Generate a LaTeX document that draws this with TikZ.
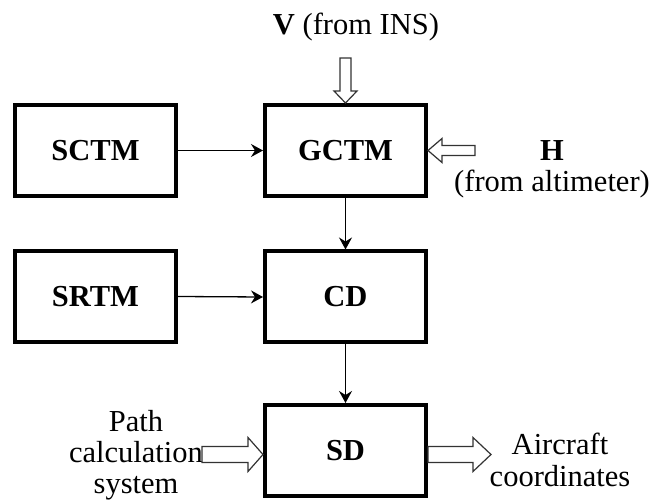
\documentclass[tikz,border=0pt]{standalone}
\usepackage{fontspec}
\setmainfont{Liberation Serif}
\usetikzlibrary{arrows.meta,calc}

\tikzset{
  block/.style={draw=black, line width=4pt, minimum width=161pt, minimum height=91pt,
    inner sep=0pt, font=\fontsize{30.5}{33}\selectfont\bfseries},
  label/.style={inner sep=0pt, font=\fontsize{30.5}{32}\selectfont, align=center},
  flow/.style={draw=black, line width=1.3pt,
    -{Stealth[length=12pt,width=13pt,inset=4pt]}},
  hollow/.style={draw=black!80, line width=1.2pt, fill=white, line join=miter}
}

\begin{document}
\begin{tikzpicture}[x=1pt,y=-1pt]
  \useasboundingbox (0,0) rectangle (649,500);

  % processing blocks
  \node[block] (sctm) at (95.5,150.5) {SCTM};
  \node[block] (gctm) at (345.5,150.5) {GCTM};
  \node[block] (srtm) at (95.5,296.5) {SRTM};
  \node[block] (cd)   at (345.5,297) {CD};
  \node[block] (sd)   at (345.5,450.5) {SD};

  % external inputs and outputs
  \node[label, anchor=base] (vin) at (356,35) {\textbf{V} (from INS)};
  \node[label, anchor=base] (hin) at (552,161) {\textbf{H}};
  \node[label, anchor=base] (hsrc) at (552,192) {(from altimeter)};
  \node[label, font=\fontsize{30.5}{31}\selectfont] (path) at (136,455) {Path\\calculation\\system};
  \node[label] (coord) at (560,460) {Aircraft\\coordinates};

  % signal flow
  \draw[flow] (sctm.east) -- (gctm.west);
  \draw[flow] (srtm.east) -- (cd.west);
  \draw[flow] (gctm.south) -- (cd.north);
  \draw[flow] (cd.south) -- (sd.north);

  % hollow arrows for external data
  \draw[hollow] (gctm.north) -- ++(-11.5,-12) -- ++(6,0) -- ++(0,-33)
    -- ++(11,0) -- ++(0,33) -- ++(6,0) -- cycle;
  \draw[hollow] (gctm.east) -- ++(14,-12) -- ++(0,7) -- ++(33,0)
    -- ++(0,10) -- ++(-33,0) -- ++(0,7) -- cycle;
  \draw[hollow] ($(sd.west)+(0,4)$) -- ++(-15,-17) -- ++(0,9) -- ++(-46,0)
    -- ++(0,16) -- ++(46,0) -- ++(0,9) -- cycle;
  \draw[hollow] ($(sd.east)+(0,-4)$) -- ++(45,0) -- ++(0,-9) -- ++(18,17)
    -- ++(-18,17) -- ++(0,-9) -- ++(-45,0) -- cycle;
\end{tikzpicture}
\end{document}
